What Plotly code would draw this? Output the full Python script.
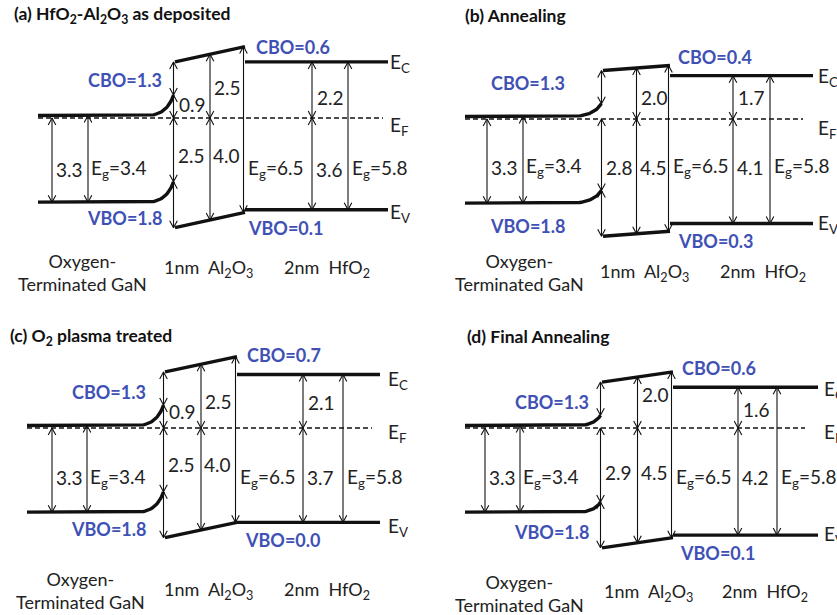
import numpy as np
import plotly.graph_objects as go

# ---------------- band-alignment values (eV, referenced to E_F) ----------------
panel_titles = [
    "(a) HfO<sub>2</sub>-Al<sub>2</sub>O<sub>3</sub> as deposited",
    "(b) Annealing",
    "(c) O<sub>2</sub> plasma treated",
    "(d) Final Annealing",
]
gan_gap = 3.4                        # GaN band gap
gan_ef_to_ev = [3.3, 3.3, 3.3, 3.3]  # bulk GaN: E_F - E_V
gan_cbo = [1.3, 1.3, 1.3, 1.3]       # GaN / Al2O3 conduction band offset
gan_vbo = [1.8, 1.8, 1.8, 1.8]       # GaN / Al2O3 valence band offset
iface_ef_to_ev = [2.5, 2.8, 2.5, 2.9]  # E_F - E_V of GaN at the interface
show_iface_ec = [True, False, True, False]
al_gap = 6.5                         # Al2O3 band gap
al_mid_ec = [2.5, 2.0, 2.5, 2.0]     # Al2O3 mid-layer: E_C - E_F
al_mid_ev = [4.0, 4.5, 4.0, 4.5]     # Al2O3 mid-layer: E_F - E_V
hf_gap = 5.8                         # HfO2 band gap
hf_ec = [2.2, 1.7, 2.1, 1.6]         # HfO2: E_C - E_F
hf_ev = [3.6, 4.1, 3.7, 4.2]         # HfO2: E_F - E_V
hf_cbo = [0.6, 0.4, 0.7, 0.6]        # Al2O3 / HfO2 conduction band offset
hf_vbo = [0.1, 0.3, 0.0, 0.1]        # Al2O3 / HfO2 valence band offset
layer_names = ["Oxygen-<br>Terminated GaN",
               "1nm&nbsp; Al<sub>2</sub>O<sub>3</sub>",
               "2nm&nbsp; HfO<sub>2</sub>"]

# ---------------- page geometry ----------------
W, H = 837, 615
PX_PER_EV = 25.5
FONT = "Lato"
BLUE = "#3f51b5"
INK = "#111111"
SIZE_TXT = 19
SIZE_LAYER = 18
SIZE_BLUE = 18
SIZE_TITLE = 17.5

# panel boxes: left, top, width, height (px) and E_F height inside the panel
boxes = [(0, 0, 420, 305, 118), (420, 0, 417, 305, 119),
         (0, 305, 420, 310, 123), (420, 305, 417, 310, 123)]

# horizontal layout of each diagram (px inside the panel)
geo = [
    dict(gs=38, gf=147, a0=175, a1=245, h1=388, ef1=383, g1=52, g2=88, ha=312, hb=348),
    dict(gs=45, gf=150, a0=183, a1=250, h1=393, ef1=383, g1=67, g2=103, ha=313, hb=350),
    dict(gs=27, gf=137, a0=165, a1=237, h1=380, ef1=372, g1=52, g2=87, ha=303, hb=343),
    dict(gs=45, gf=157, a0=182, a1=253, h1=398, ef1=385, g1=65, g2=100, ha=318, hb=357),
]

# text placement (px inside the panel)
txt_pos = [
    dict(title=(12, 15), cbo_g=(125, 80), vbo_g=(125, 218), cbo_h=(293, 47), vbo_h=(286, 228),
         row=169, row_i=155, up_al=87, up_hf=97, up_i=104,
         ec=(388, 63), ef=126, ev=213, gan=(82, 272), al=(208, 268), hf=(327, 268)),
    dict(title=(43, 15), cbo_g=(108, 83), vbo_g=(108, 226), cbo_h=(295, 57), vbo_h=(296, 241),
         row=167, row_i=167, up_al=97, up_hf=97, up_i=104,
         ec=(396, 77), ef=129, ev=224, gan=(99, 272), al=(224, 272), hf=(343, 272)),
    dict(title=(8, 32), cbo_g=(109, 87), vbo_g=(109, 224), cbo_h=(284, 50), vbo_h=(283, 235),
         row=173, row_i=160, up_al=97, up_hf=98, up_i=107,
         ec=(386, 75), ef=128, ev=222, gan=(80, 285), al=(208, 285), hf=(327, 285)),
    dict(title=(45, 32), cbo_g=(132, 97), vbo_g=(132, 227), cbo_h=(299, 63), vbo_h=(298, 248),
         row=173, row_i=168, up_al=90, up_hf=105, up_i=104,
         ec=(402, 85), ef=128, ev=230, gan=(99, 288), al=(228, 287), hf=(345, 287)),
]

fig = go.Figure()
annotations = []
layout_axes = {}


def bend(x0, y0, x1, y1, n=24):
    """Quadratic band-bending curve from a flat band into the interface."""
    cx, cy = x0 + 0.75 * (x1 - x0), y0
    t = np.linspace(0, 1, n)
    xs = (1 - t) ** 2 * x0 + 2 * (1 - t) * t * cx + t ** 2 * x1
    ys = (1 - t) ** 2 * y0 + 2 * (1 - t) * t * cy + t ** 2 * y1
    return list(xs), list(ys)


for k in range(4):
    left, top, pw, ph, efpx = boxes[k]
    g = geo[k]
    tp = txt_pos[k]
    xa = "x" if k == 0 else f"x{k + 1}"
    ya = "y" if k == 0 else f"y{k + 1}"
    xkey = "xaxis" if k == 0 else f"xaxis{k + 1}"
    ykey = "yaxis" if k == 0 else f"yaxis{k + 1}"
    layout_axes[xkey] = dict(domain=[left / W, (left + pw) / W], range=[0, pw],
                             visible=False, fixedrange=True, anchor=ya)
    layout_axes[ykey] = dict(domain=[1 - (top + ph) / H, 1 - top / H],
                             range=[-(ph - efpx) / PX_PER_EV, efpx / PX_PER_EV],
                             visible=False, fixedrange=True, anchor=xa)

    def ev_at(ypx):
        return (efpx - ypx) / PX_PER_EV

    # band edges
    ec_b = gan_gap - gan_ef_to_ev[k]
    ev_b = -gan_ef_to_ev[k]
    ec_i = gan_gap - iface_ef_to_ev[k]
    ev_i = -iface_ef_to_ev[k]
    al_ec_l = ec_i + gan_cbo[k]
    al_ev_l = ev_i - gan_vbo[k]
    al_ec_r = hf_ec[k] + hf_cbo[k]
    al_ev_r = -hf_ev[k] - hf_vbo[k]
    hec, hev = hf_ec[k], -hf_ev[k]
    gi = g["a0"] - 1.5          # GaN edge / interface arrow position
    amid = (g["a0"] + g["a1"]) / 2
    a6 = g["a1"] - 1.5

    # Fermi level
    fig.add_trace(go.Scatter(x=[g["gs"], g["ef1"]], y=[0, 0], mode="lines",
                             line=dict(color=INK, width=1.3, dash="5px,3px"),
                             xaxis=xa, yaxis=ya, hoverinfo="skip", showlegend=False))

    # thick band lines
    bx, by = [], []
    cx, cy = bend(g["gf"], ec_b, gi, ec_i)
    bx += [g["gs"]] + cx + [None]
    by += [ec_b] + cy + [None]
    cx, cy = bend(g["gf"], ev_b, gi, ev_i)
    bx += [g["gs"]] + cx + [None]
    by += [ev_b] + cy + [None]
    bx += [g["a0"], g["a1"], None, g["a0"], g["a1"], None]
    by += [al_ec_l, al_ec_r, None, al_ev_l, al_ev_r, None]
    bx += [g["a1"], g["h1"], None, g["a1"], g["h1"]]
    by += [hec, hec, None, hev, hev]
    fig.add_trace(go.Scatter(x=bx, y=by, mode="lines",
                             line=dict(color=INK, width=3.4),
                             xaxis=xa, yaxis=ya, hoverinfo="skip", showlegend=False))

    # double-headed arrows
    arrows = [
        (g["g1"], 0, ev_b), (g["g2"], ec_b, ev_b),
        (gi, al_ec_l, ec_i), (gi, 0, ev_i), (gi, ev_i, al_ev_l),
        (amid, al_mid_ec[k], 0), (amid, 0, -al_mid_ev[k]),
        (a6, al_ec_r, al_ev_r),
        (g["ha"], hec, 0), (g["ha"], 0, hev),
        (g["hb"], hec, hev),
    ]
    if show_iface_ec[k]:
        arrows.append((gi, ec_i, 0))
    ax_, ay_ = [], []
    hw, hl = 3.8, 7.0
    for x, y_top, y_bot in arrows:
        ax_ += [x, x, None]
        ay_ += [y_top, y_bot, None]
        for tip, d in ((y_top, 1), (y_bot, -1)):
            back = tip - d * hl / PX_PER_EV
            ax_ += [x - hw, x, x + hw, None]
            ay_ += [back, tip, back, None]
    fig.add_trace(go.Scatter(x=ax_, y=ay_, mode="lines",
                             line=dict(color=INK, width=1.1),
                             xaxis=xa, yaxis=ya, hoverinfo="skip", showlegend=False))

    def text(x, ypx, s, xanchor="left", color="#222222", bold=False, size=SIZE_TXT):
        annotations.append(dict(
            x=x, y=ev_at(ypx), xref=xa, yref=ya, text=f"<b>{s}</b>" if bold else s,
            showarrow=False, xanchor=xanchor, yanchor="middle", align="center",
            font=dict(family=FONT, size=size, color=color)))

    fmt = lambda v: f"{v:.1f}"
    text(tp["title"][0], tp["title"][1], panel_titles[k], bold=True, color=INK, size=SIZE_TITLE)
    text(tp["cbo_g"][0], tp["cbo_g"][1], f"CBO={fmt(gan_cbo[k])}", "center", BLUE, True, SIZE_BLUE)
    text(tp["vbo_g"][0], tp["vbo_g"][1], f"VBO={fmt(gan_vbo[k])}", "center", BLUE, True, SIZE_BLUE)
    text(tp["cbo_h"][0], tp["cbo_h"][1], f"CBO={fmt(hf_cbo[k])}", "center", BLUE, True, SIZE_BLUE)
    text(tp["vbo_h"][0], tp["vbo_h"][1], f"VBO={fmt(hf_vbo[k])}", "center", BLUE, True, SIZE_BLUE)

    text(g["g1"] + 2, tp["row"], fmt(gan_ef_to_ev[k]))
    text(g["g2"] + 1, tp["row"], f"E<sub>g</sub>={fmt(gan_gap)}")
    text(gi + 2, tp["row_i"], fmt(iface_ef_to_ev[k]))
    if show_iface_ec[k]:
        text(gi + 3, tp["up_i"], fmt(ec_i))
    text(amid + 2, tp["up_al"], fmt(al_mid_ec[k]))
    text(amid + 1, tp["row_i"], fmt(al_mid_ev[k]))
    text(a6 + 2, tp["row"], f"E<sub>g</sub>={fmt(al_gap)}")
    text(g["ha"] + 3, tp["up_hf"], fmt(hf_ec[k]))
    text(g["ha"] + 2, tp["row"], fmt(hf_ev[k]))
    text(g["hb"] + 2, tp["row"], f"E<sub>g</sub>={fmt(hf_gap)}")

    text(tp["ec"][0], tp["ec"][1], "E<sub>C</sub>")
    text(tp["ec"][0], tp["ef"], "E<sub>F</sub>")
    text(tp["ec"][0], tp["ev"], "E<sub>V</sub>")

    text(tp["gan"][0], tp["gan"][1], layer_names[0], "center", size=SIZE_LAYER)
    text(tp["al"][0], tp["al"][1], layer_names[1], "center", size=SIZE_LAYER)
    text(tp["hf"][0], tp["hf"][1], layer_names[2], "center", size=SIZE_LAYER)

fig.update_layout(
    width=W, height=H, margin=dict(l=0, r=0, t=0, b=0),
    paper_bgcolor="white", plot_bgcolor="white",
    annotations=annotations, showlegend=False, **layout_axes,
)
fig.write_html("out.html", config={"displayModeBar": False})
